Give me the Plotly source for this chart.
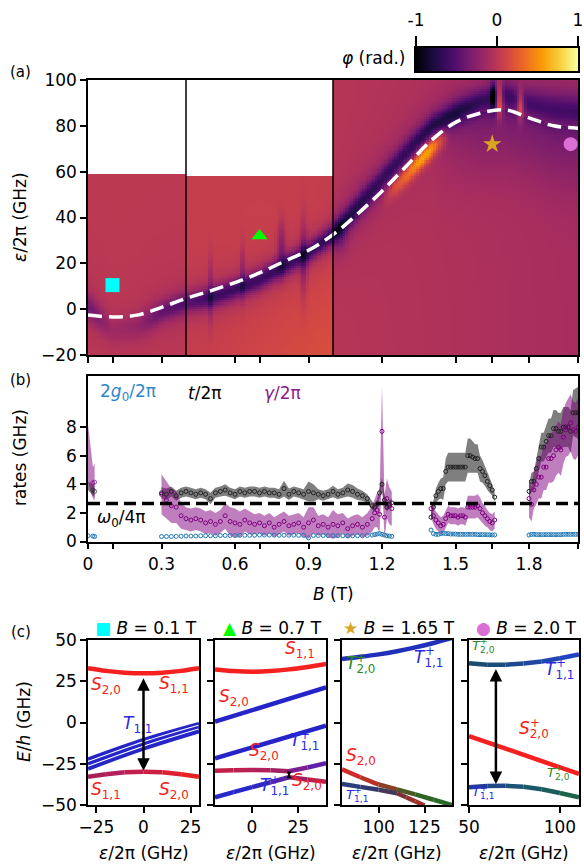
import numpy as np
import plotly.graph_objects as go

W, H = 584, 865
def fx(px): return px / W
def fy(py): return 1 - py / H

FONT = "DejaVu Sans"
FS = 17

# ---------------- Panel (a) : phase map description ----------------
res_B   = [0.0, 0.1, 0.2, 0.3, 0.4, 0.5, 0.6, 0.7, 0.8, 0.9, 1.0, 1.1, 1.2, 1.3, 1.4, 1.5, 1.6, 1.7, 1.8, 1.9, 2.0]
res_eps = [-2.5, -3.4, -2.6, 0.8, 4.7, 8.0, 11.6, 15.8, 20.8, 25.7, 32.5, 41.5, 51.5, 62.5, 73.5, 81.5, 85.5, 87.0, 83.5, 80.0, 79.0]
band_depth = [-0.4, -0.15, -0.2, -0.45, -0.55, -0.7, -0.72, -0.72, -0.75, -0.75, -0.8, -0.7, -0.62, -0.62, -0.7, -0.75, -0.6, -0.55, -0.5, -0.5, -0.5]
band_shift = [4, -6, -5, -2, -2, -3, -3, -3, -2, -1, 0, 3, 5, 6, 6, 4, 5, 6, 6, 7, 7]
band_width = [6, 7, 7, 5, 5, 5, 5, 5, 5, 5, 5, 6, 6, 6, 5.5, 6, 6, 7, 7, 8, 8]
bright_B = [1.20, 1.26, 1.31, 1.36, 1.40, 1.44, 1.48]
bright_amp = [0.0, 0.35, 0.5, 0.75, 0.7, 0.35, 0.0]
bright_shift = [-4, -4, -4, -3.5, -3.5, -3, -3]
bright_width = 3.0
seg_edges = [0.0, 0.4, 1.0, 2.0]
seg_top = [58.5, 57.5, 100.0]
bg_seg1 = 0.01
bg_seg2 = [0.06, 0.18]          # top-left, bottom-right
bg3_B = [1.0, 1.5, 2.0]
bg3_val = [-0.02, -0.06, -0.10]
below_B = [1.0, 1.4, 1.6, 2.0]
below_amp = [0.0, 0.0, -0.17, -0.17]
spot_B    = [1.652, 1.68, 1.765, 0.50, 0.79, 0.88, 0.63, 1.03]
spot_eps  = [93, 91, 89, 8, 27, 22, 16, 32]
spot_dB   = [0.007, 0.009, 0.01, 0.006, 0.012, 0.01, 0.006, 0.02]
spot_deps = [4, 5, 4.5, 10, 8, 12, 8, 5]
spot_amp  = [-0.6, 0.8, 0.65, -0.25, -0.3, -0.3, -0.25, -0.2]

marker_B   = [0.1, 0.7, 1.65, 1.97]
marker_eps = [10.5, 32, 72, 72]
axis_marker_B = [0.1, 0.7, 1.65, 2.0]
marker_sym = ["square", "triangle-up", "star", "circle"]
marker_col = ["#00ffff", "#00ff00", "#daa520", "#da70d6"]

# ---------------- Panel (b) : rates ----------------
omega0_4pi = 2.65
B0 = [0.0, 0.02, 0.027]
t0 = [3.9, 3.6, 3.5]
t0_err = [0.3, 0.4, 0.4]
gam0 = [6.2, 4.1, 4.15]
gam0_err = [2.0, 1.1, 1.3]
g0 = [0.4, 0.38, 0.35]

B1 = [0.30,0.32,0.34,0.36,0.38,0.40,0.42,0.44,0.46,0.48,0.50,0.52,0.54,0.56,0.58,0.60,0.62,0.64,0.66,0.68,
      0.70,0.72,0.74,0.76,0.78,0.80,0.82,0.84,0.86,0.88,0.90,0.92,0.94,0.96,0.98,1.00,1.02,1.04,1.06,1.08,
      1.10,1.12,1.14,1.16,1.17,1.18,1.19,1.20,1.21,1.22,1.23,1.24]
t1 = [3.4,3.3,3.5,3.2,3.4,3.5,3.4,3.3,3.4,3.3, 3.0,3.4,3.5,3.6,3.4,3.3,3.5,3.4,3.5,3.5,
      3.4,3.5,3.4,3.4,3.3,3.7,3.3,3.5,3.4,3.3, 3.5,3.4,3.3,3.2,3.3,3.5,3.3,3.4,3.6,3.5,
      3.3,3.2,3.0,2.5, 2.4,2.6,3.4,4.0,2.9,2.4,2.6,2.7]
t1_err = [0.4,0.4,0.35,0.35,0.35,0.35,0.35,0.35,0.35,0.35, 0.4,0.35,0.35,0.4,0.35,0.35,0.35,0.35,0.35,0.35,
          0.35,0.35,0.35,0.35,0.35,0.55,0.4,0.35,0.35,0.35, 0.7,0.6,0.35,0.35,0.35,0.4,0.35,0.35,0.45,0.45,
          0.4,0.35,0.3,0.3, 0.3,0.3,0.4,0.5,0.4,0.3,0.3,0.3]
gam1 = [3.3,2.9,2.5,2.4,1.8,1.6,1.5,1.6,1.5,1.3, 1.4,1.2,1.4,1.8,1.4,1.3,1.2,1.5,1.3,1.2,
        1.3,1.1,1.3,1.0,1.2,1.4,1.1,1.2,1.3,1.0, 1.3,1.5,1.1,1.2,1.0,1.2,1.1,1.3,0.9,1.1,
        1.2,1.0,1.2,1.6, 2.0,2.2,1.9,7.7,1.7,3.0,2.5,2.3]
gam1_err = [1.4,1.3,1.2,1.1,0.9,0.8,0.8,0.8,0.8,0.8, 0.8,0.8,0.8,0.9,1.0,1.0,0.9,0.8,0.8,0.7,
            0.7,0.7,0.7,0.7,0.7,0.7,0.7,0.7,0.7,0.7, 1.1,0.9,0.7,0.7,0.7,1.0,0.8,0.7,0.7,0.7,
            0.7,0.7,0.8,0.9, 1.0,1.2,1.3,3.2,1.5,1.4,1.3,1.2]
g1 = [0.35,0.35,0.35,0.36,0.37,0.38,0.38,0.38,0.40,0.40, 0.40,0.40,0.42,0.42,0.42,0.42,0.43,0.43,0.43,0.44,
      0.45,0.45,0.45,0.44,0.44,0.44,0.44,0.44,0.43,0.43, 0.25,0.42,0.42,0.42,0.41,0.41,0.41,0.40,0.40,0.40,
      0.40,0.40,0.42,0.45, 0.48,0.52,0.55,0.50,0.45,0.40,0.38,0.36]

B2 = [1.40,1.41,1.42,1.43,1.44,1.45,1.46,1.47,1.48,1.49,1.50,1.51,1.52,1.53,1.54,1.55,1.56,1.57,1.58,1.59,
      1.60,1.61,1.62,1.63,1.64,1.65,1.66]
t2 = [1.7,2.4,3.2,3.5,3.7,3.7,4.9,5.2,5.2,5.2,5.2,5.2,5.2,5.2,5.2,6.0,6.0,5.9,5.8,5.8,
      5.1,4.9,4.6,4.2,3.9,3.6,3.1]
t2_err = [0.3,0.4,0.5,0.6,0.7,0.8,0.9,1.0,1.0,1.0,1.0,1.0,1.0,1.0,1.0,1.2,1.2,1.1,1.0,1.0,
          0.9,0.8,0.7,0.6,0.5,0.4,0.3]
gam2 = [2.3,1.8,1.5,1.3,1.1,1.2,1.6,1.9,1.8,1.8,1.8,1.7,1.8,1.8,1.7,2.4,2.4,2.4,2.4,2.5,
        2.3,2.0,1.8,1.6,1.4,1.3,1.5]
gam2_err = [0.6,0.6,0.6,0.6,0.6,0.6,0.6,0.6,0.6,0.6,0.6,0.6,0.6,0.6,0.6,0.8,0.8,0.8,0.8,0.8,
            0.8,0.7,0.7,0.6,0.6,0.6,0.6]
g2 = [0.80,0.55,0.50,0.50,0.55,0.58,0.55,0.55,0.52,0.52,0.52,0.50,0.50,0.50,0.50,0.50,0.50,0.50,0.50,0.48,
      0.48,0.48,0.48,0.47,0.47,0.46,0.46]

B3 = [1.80,1.81,1.82,1.83,1.84,1.85,1.86,1.87,1.88,1.89,1.90,1.91,1.92,1.93,1.94,1.95,1.96,1.97,1.98,1.99,2.00]
t3 = [3.5,4.2,4.2,5.1,5.8,6.6,6.6,7.0,7.4,7.4,7.9,7.9,7.7,7.7,8.0,8.0,8.0,7.7,9.0,9.0,9.0]
t3_err = [0.5,0.6,0.7,0.8,0.9,1.0,1.0,1.1,1.2,1.2,1.3,1.3,1.3,1.3,1.4,1.4,1.4,1.5,1.6,1.7,1.8]
gam3 = [3.0,2.6,3.6,4.0,4.5,4.5,5.2,5.2,5.8,5.8,6.0,6.4,6.6,6.4,7.3,7.8,8.0,8.3,7.8,7.7,8.0]
gam3_err = [1.3,1.2,1.3,1.4,1.5,1.5,1.6,1.6,1.7,1.7,1.8,1.8,1.8,1.8,1.9,1.9,2.0,2.0,2.0,2.0,2.0]
g3 = [0.45,0.50,0.50,0.48,0.48,0.48,0.48,0.48,0.48,0.48,0.48,0.48,0.48,0.48,0.50,0.50,0.50,0.50,0.50,0.50,0.50]

# ---------------- Panel (c) : energy levels ----------------
c1_eps = [-29.5, -20, -10, 0, 10, 20, 29.5]
c1_S_up = [32.9, 31.3, 30.2, 29.8, 30.2, 31.3, 32.9]
c1_S_lo = [-32.9, -31.3, -30.2, -29.8, -30.2, -31.3, -32.9]
c1_T_eps = [-29.5, 0, 29.5]
c1_T_a = [-22.3, -10.5, -0.8]
c1_T_b = [-25.2, -13.2, -3.1]
c1_T_c = [-28.1, -15.9, -5.4]

c2_eps = [-20, -10, 0, 10, 20, 30, 40]
c2_S_up = [32.2, 31.2, 30.8, 31.2, 32.2, 33.7, 35.5]
c2_T_a = [0.5, 4.0, 7.5, 11.0, 14.5, 18.0, 21.3]
c2_T_b = [-21.7, -18.4, -15.1, -11.8, -8.5, -5.2, -1.9]
c2_up = [-29.2, -28.9, -28.8, -29.0, -29.5, -27.3, -24.7]
c2_lo = [-45.3, -42.2, -39.2, -36.2, -33.2, -34.5, -35.9]

c3_eps = [80, 90, 100, 110, 120, 130, 140]
c3_top = [38.5, 39.8, 41.3, 43.2, 45.5, 48.2, 51.2]
c3_up = [-28.4, -33.2, -37.6, -40.5, -43.6, -46.8, -50.0]
c3_lo_eps = [80, 90, 100, 110, 115, 120, 125]
c3_lo = [-37.3, -39.0, -40.8, -42.9, -45.3, -47.8, -50.3]

c4_eps = [50, 60, 70, 80, 90, 100, 110.5]
c4_top = [35.9, 35.0, 35.0, 35.7, 37.0, 38.9, 41.3]
c4_S = [-8.2, -12.0, -15.8, -19.6, -23.4, -27.2, -31.2]
c4_bot = [-39.3, -38.5, -38.4, -39.0, -40.5, -42.7, -45.3]

# ======================================================================
fig = go.Figure()

# ---------- heatmap (a) ----------
Bc = np.arange(0.005, 2.0, 0.01)
Ec = np.arange(-19.5, 100, 1.0)
BB, EE = np.meshgrid(Bc, Ec)
cen = np.interp(BB, res_B, res_eps)
dep = np.interp(BB, res_B, band_depth)
sh = np.interp(BB, res_B, band_shift)
wd = np.interp(BB, res_B, band_width)
bg2 = bg_seg2[0] + (bg_seg2[1] - bg_seg2[0]) * ((BB - 0.4) / 0.6) * ((58 - EE) / 78)
bg3 = np.interp(BB, bg3_B, bg3_val)
bg3 = bg3 + np.interp(BB, below_B, below_amp) * np.where(EE < cen, np.exp(-((cen - 6 - EE) / 22) ** 2), 0)
bg = np.where(BB < 0.4, bg_seg1, np.where(BB < 1.0, bg2, bg3))
d = (EE - cen - sh) / wd
Z = bg + dep * (0.55 / (1 + d ** 2) + 0.45 * np.exp(-0.5 * (d / 0.6) ** 2))
ba = np.interp(BB, bright_B, bright_amp, left=0, right=0)
bs = np.interp(BB, bright_B, bright_shift)
Z = Z + ba * np.exp(-0.5 * ((EE - cen - bs) / bright_width) ** 2)
for b0, e0, db, de, a in zip(spot_B, spot_eps, spot_dB, spot_deps, spot_amp):
    Z = Z + a * np.exp(-0.5 * ((BB - b0) / db) ** 2 - 0.5 * ((EE - e0) / de) ** 2)
Z = np.clip(Z, -1, 1)
Z = np.where((BB < 0.4) & (EE > seg_top[0]), np.nan, Z)
Z = np.where((BB > 0.4) & (BB < 1.0) & (EE > seg_top[1]), np.nan, Z)
fig.add_trace(go.Heatmap(x=Bc, y=Ec, z=Z, colorscale="Inferno", zmin=-1, zmax=1,
                         showscale=False, xaxis="x", yaxis="y", hoverinfo="skip"))
fig.add_trace(go.Scatter(x=res_B, y=res_eps, mode="lines", line=dict(color="white", width=3.5, dash="14px,7px", shape="spline"),
                         xaxis="x", yaxis="y", showlegend=False))
for b, e, s, c in zip(marker_B, marker_eps, marker_sym, marker_col):
    fig.add_trace(go.Scatter(x=[b], y=[e], mode="markers", marker=dict(symbol=s, color=c, size=14, line=dict(width=0)),
                             xaxis="x", yaxis="y", showlegend=False))
for xb in seg_edges[1:3]:
    fig.add_shape(type="line", xref="x", yref="y domain", x0=xb, x1=xb, y0=0, y1=1, line=dict(color="black", width=1.5))

# ---------- colorbar ----------
cb = np.linspace(-1, 1, 256)
fig.add_trace(go.Heatmap(x=cb, y=[0.5], z=[cb], colorscale="Inferno", zmin=-1, zmax=1, showscale=False,
                         xaxis="x7", yaxis="y7", hoverinfo="skip"))

# ---------- panel (b) ----------
def band(B, v, e, color):
    lo = [a - b for a, b in zip(v, e)]
    hi = [a + b for a, b in zip(v, e)]
    fig.add_trace(go.Scatter(x=list(B) + list(B)[::-1], y=hi + lo[::-1], fill="toself", fillcolor=color,
                             line=dict(width=0), mode="lines", xaxis="x2", yaxis="y2", showlegend=False, hoverinfo="skip"))

segs = [(B0, t0, t0_err, gam0, gam0_err, g0), (B1, t1, t1_err, gam1, gam1_err, g1),
        (B2, t2, t2_err, gam2, gam2_err, g2), (B3, t3, t3_err, gam3, gam3_err, g3)]
for Bs, ts, te, gs, ge, gg in segs:
    band(Bs, ts, te, "rgba(0,0,0,0.5)")
    band(Bs, gs, ge, "rgba(128,0,128,0.5)")
for k, (Bs, ts, te, gs, ge, gg) in enumerate(segs):
    sz = [0] + [4] * (len(Bs) - 1) if k == 0 else 4
    fig.add_trace(go.Scatter(x=Bs, y=gg, mode="markers", marker=dict(symbol="circle-open", size=4, color="#1f77b4", line=dict(width=1)),
                             xaxis="x2", yaxis="y2", showlegend=False))
    fig.add_trace(go.Scatter(x=Bs, y=ts, mode="markers", marker=dict(symbol="circle-open", size=sz, color="#222222", line=dict(width=1)),
                             xaxis="x2", yaxis="y2", showlegend=False))
    fig.add_trace(go.Scatter(x=Bs, y=gs, mode="markers", marker=dict(symbol="circle-open", size=sz, color="#800080", line=dict(width=1)),
                             xaxis="x2", yaxis="y2", showlegend=False))
fig.add_trace(go.Scatter(x=[0, 2.0], y=[omega0_4pi, omega0_4pi], mode="lines", line=dict(color="black", width=3.5, dash="12px,6px"),
                         xaxis="x2", yaxis="y2", showlegend=False))
for b, s, c in zip(axis_marker_B, marker_sym, marker_col):
    fig.add_trace(go.Scatter(x=[b], y=[-1.85], mode="markers", cliponaxis=False,
                             marker=dict(symbol=s, color=c, size=14, line=dict(width=0)),
                             xaxis="x2", yaxis="y2", showlegend=False))

# ---------- panel (c) ----------
def line(xs, ys, color, ax, width=4.5, shape="spline"):
    fig.add_trace(go.Scatter(x=xs, y=ys, mode="lines", line=dict(color=color, width=width, shape=shape),
                             xaxis="x" + ax, yaxis="y" + ax, showlegend=False))

def gline(xs, ys, colors, ax, width=4.5):
    for i in range(len(xs) - 1):
        fig.add_trace(go.Scatter(x=xs[i:i + 2], y=ys[i:i + 2], mode="lines", line=dict(color=colors[i], width=width),
                                 xaxis="x" + ax, yaxis="y" + ax, showlegend=False))

RED = "#f52020"
BLUE = "#2424c8"
# sub 1
line(c1_eps, c1_S_up, RED, "3")
gline(c1_eps, c1_S_lo, ["#a8205a", "#b4205a", "#c02050", "#cc2040", "#dc2030", "#e82020"], "3")
for T in (c1_T_a, c1_T_b, c1_T_c):
    line(c1_T_eps, T, "white", "3", width=6.0)
    line(c1_T_eps, T, BLUE, "3", width=3.8)
# sub 2
line(c2_eps, c2_S_up, RED, "4")
line(c2_eps, c2_T_a, BLUE, "4", shape="linear")
line(c2_eps, c2_T_b, BLUE, "4", shape="linear")
gline(c2_eps, c2_up, ["#c02048", "#bc2050", "#b42058", "#a02064", "#7c2090", "#6020a8"], "4")
gline(c2_eps, c2_lo, ["#2828c8", "#2828c8", "#3028c0", "#5a24a0", "#a02060", "#c02048"], "4")
# sub 3
line(c3_eps, c3_top, "#2030b8", "5")
gline(c3_eps, c3_up, ["#d02a2a", "#b83228", "#8a4024", "#4a5a22", "#2e6424", "#286a28"], "5")
gline(c3_lo_eps, c3_lo, ["#2a3c7a", "#303a70", "#44385c", "#7a3238", "#963030", "#a0302a"], "5")
# sub 4
gline(c4_eps, c4_top, ["#1a4c70", "#1a4c7c", "#1c4a8c", "#1e48a0", "#2046b0", "#2044c4"], "6")
line(c4_eps, c4_S, RED, "6", shape="linear")
gline(c4_eps, c4_bot, ["#203c98", "#1e4888", "#1c5478", "#1a5a68", "#1a5e5a", "#1c644a"], "6")

# ---------- axes ----------
base = dict(showline=True, linecolor="black", linewidth=1.5, mirror=True, ticks="outside", ticklen=6, tickwidth=1.5,
            tickcolor="black", showgrid=False, zeroline=False, automargin=False,
            tickfont=dict(family=FONT, size=FS, color="black"))
bt_vals = [0, 0.1, 0.3, 0.6, 0.7, 0.9, 1.2, 1.5, 1.65, 1.8, 2.0]
bt_text = ["0", "", "0.3", "0.6", "", "0.9", "1.2", "1.5", "", "1.8", ""]
xa = [fx(88), fx(578)]
lay = dict(
    xaxis=dict(base, domain=xa, range=[0, 2.0], anchor="y", tickvals=bt_vals, showticklabels=False),
    yaxis=dict(base, domain=[fy(355), fy(80)], range=[-20, 100], anchor="x", tickvals=[-20, 0, 20, 40, 60, 80, 100],
               ticktext=["\u221220", "0", "20", "40", "60", "80", "100"]),
    xaxis2=dict(base, domain=xa, range=[0, 2.0], anchor="y2", tickvals=bt_vals, ticktext=bt_text),
    yaxis2=dict(base, domain=[fy(541.5), fy(376)], range=[0, 11.57], anchor="x2", tickvals=[0, 2, 4, 6, 8]),
    xaxis7=dict(base, domain=[fx(416), fx(578)], range=[-1, 1], anchor="y7", side="top", ticklen=10,
                tickvals=[-1, 0, 1], ticktext=["-1", "0", "1"], ticklabelstandoff=3),
    yaxis7=dict(base, domain=[fy(71), fy(48)], range=[0, 1], anchor="x7", ticks="", showticklabels=False),
)
c_dom = [(88, 199), (215, 326), (342, 452), (469, 579)]
c_rng = [[-29.5, 29.5], [-20, 40], [80, 140], [50, 110.5]]
c_tv = [[-25, 0, 25], [0, 25], [100, 125], [50, 100]]
c_tt = [["\u221225", "0", "25"], ["0", "25"], ["100", "125"], ["50", "100"]]
for i in range(4):
    n = str(i + 3)
    lay["xaxis" + n] = dict(base, domain=[fx(c_dom[i][0]), fx(c_dom[i][1])], range=c_rng[i], anchor="y" + n,
                            tickvals=c_tv[i], ticktext=c_tt[i])
    lay["yaxis" + n] = dict(base, domain=[fy(805), fy(640)], range=[-50, 50], anchor="x" + n,
                            tickvals=[-50, -25, 0, 25, 50], ticktext=["\u221250", "\u221225", "0", "25", "50"],
                            showticklabels=(i == 0))

ann = []
def A(text, x, y, xref="paper", yref="paper", size=FS, color="black", xanchor="center", yanchor="middle", angle=0, **kw):
    d = dict(text=text, x=x, y=y, xref=xref, yref=yref, showarrow=False, xanchor=xanchor, yanchor=yanchor,
             textangle=angle, font=dict(family=FONT, size=size, color=color))
    d.update(kw)
    ann.append(d)

# panel labels
A("(a)", fx(20), fy(72), size=15)
A("(b)", fx(20), fy(380), size=15)
A("(c)", fx(21), fy(632), size=15)
A("<i>\u03b5</i>/2\u03c0 (GHz)", fx(20), fy(217), angle=-90)
A("rates (GHz)", fx(20), fy(458), angle=-90)
A("<i>E</i>/<i>h</i> (GHz)", fx(24), fy(722), angle=-90)
A("<i>B</i> (T)", fx(333), fy(594))
A("<i>\u03c6</i> (rad.)", fx(408), fy(58), xanchor="right")
for i in range(4):
    A("<i>\u03b5</i>/2\u03c0 (GHz)", fx((c_dom[i][0] + c_dom[i][1]) / 2), fy(853))

# panel (b) texts
A("2<i>g</i><sub>0</sub>/2\u03c0", 0.04, 10.4, "x2", "y2", color="#2f86c8", xanchor="left")
A("<i>t</i>/2\u03c0", 0.40, 10.4, "x2", "y2", xanchor="left")
A("<i>\u03b3</i>/2\u03c0", 0.71, 10.4, "x2", "y2", color="#8b1a8b", xanchor="left")
A("<i>\u03c9</i><sub>0</sub>/4\u03c0", 0.03, 1.6, "x2", "y2", xanchor="left")

# panel (c) titles
titles = [("#00ffff", "\u25a0", "0.1"), ("#00ff00", "\u25b2", "0.7"), ("#daa520", "\u2605", "1.65"), ("#da70d6", "\u25cf", "2.0")]
for i, (c, g, v) in enumerate(titles):
    A(f"<span style='color:{c}'>{g}</span> <i>B</i> = {v} T", fx((c_dom[i][0] + c_dom[i][1]) / 2 + 2), fy(628))

def S(text, x, y, ax, color, xanchor="left", size=FS):
    A(text, x, y, "x" + ax, "y" + ax, size=size, color=color, xanchor=xanchor)

def Tl(letter, sub, x, y, ax, color, size=FS):
    A(f"<i>{letter}</i><sub>{sub}</sub>", x, y, "x" + ax, "y" + ax, size=size, color=color, xanchor="left")
    A("+", x, y, "x" + ax, "y" + ax, size=size * 0.7, color=color, xanchor="left", xshift=size * 0.62, yshift=size * 0.42)

GRN = "#2a8a2a"
TB = "#2a2ae0"
# sub1
S("<i>S</i><sub>2,0</sub>", -29, 22.7, "3", RED)
S("<i>S</i><sub>1,1</sub>", 16, 23, "3", RED, "center")
S("<i>T</i><sub>1,1</sub>", -3.4, -1.5, "3", TB, "center")
S("<i>S</i><sub>1,1</sub>", -29, -41, "3", RED)
S("<i>S</i><sub>2,0</sub>", 16, -41, "3", RED, "center")
# sub2
S("<i>S</i><sub>1,1</sub>", 17, 44, "4", RED)
S("<i>S</i><sub>2,0</sub>", -19, 15, "4", RED)
S("<i>S</i><sub>2,0</sub>", 6.5, -17.7, "4", RED, "center")
Tl("T", "1,1", 19.3, -11.6, "4", TB)
Tl("T", "1,1", 3.2, -38.9, "4", TB)
S("<i>S</i><sub>2,0</sub>", 29.5, -35.5, "4", RED, "center")
# sub3
Tl("T", "2,0", 81, 35, "5", GRN)
Tl("T", "1,1", 118.3, 39, "5", TB)
S("<i>S</i><sub>2,0</sub>", 81, -20.7, "5", RED)
Tl("T", "1,1", 81, -44.5, "5", TB, size=13)
# sub4
Tl("T", "2,0", 50.5, 46, "6", GRN, size=13)
Tl("T", "1,1", 90.7, 31.8, "6", TB)
Tl("S", "2,0", 76.4, -4.5, "6", RED)
Tl("T", "2,0", 91.8, -30.7, "6", GRN, size=13)
Tl("T", "1,1", 50.5, -42.7, "6", TB, size=13)

# arrows
def arrow(x, y0, y1, ax, size=1.0, width=2.5):
    ann.append(dict(x=x, y=y1, ax=x, ay=y0, xref="x" + ax, yref="y" + ax, axref="x" + ax, ayref="y" + ax,
                    showarrow=True, arrowhead=2, startarrowhead=2, arrowside="end+start", arrowsize=size,
                    startarrowsize=size, arrowwidth=width, arrowcolor="black", text=""))
arrow(0, 27.8, -29.2, "3")
arrow(20, -29.8, -32.8, "4", size=0.5, width=2)
arrow(110, -40.5, -42.9, "5", size=0.5, width=2)
arrow(64.8, 33.4, -37.3, "6")

fig.update_layout(**lay)
fig.update_layout(annotations=ann, width=W, height=H, margin=dict(l=0, r=0, t=0, b=0),
                  paper_bgcolor="white", plot_bgcolor="white", showlegend=False,
                  font=dict(family=FONT, size=FS, color="black"))
fig.write_html("out.html")
